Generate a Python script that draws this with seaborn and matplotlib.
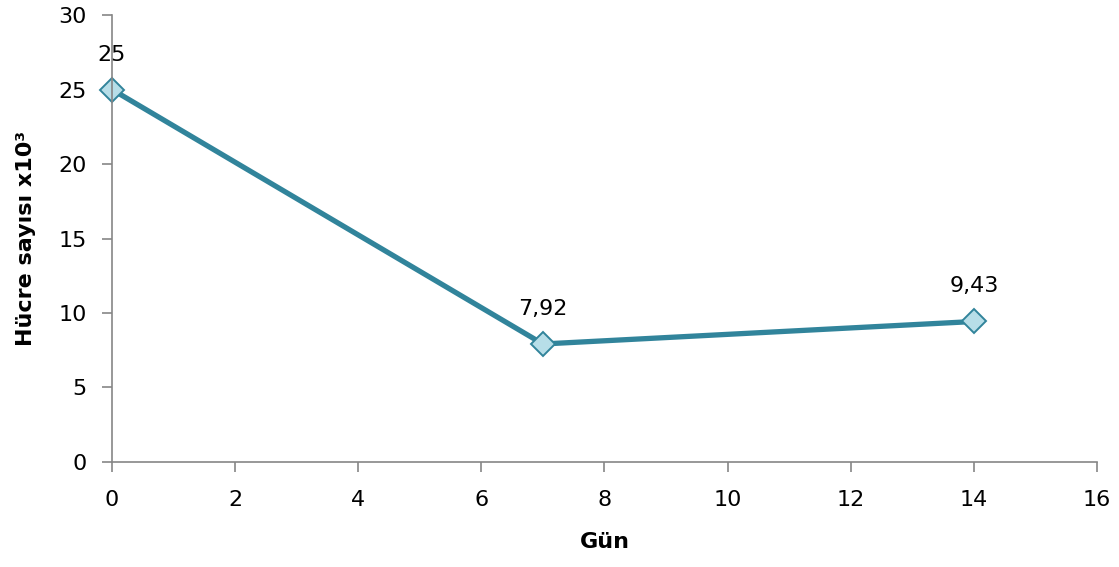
import matplotlib
matplotlib.use("Agg")
import matplotlib.pyplot as plt
import seaborn as sns
import pandas as pd

days = [0, 7, 14]
cell_counts = [25, 7.92, 9.43]
value_labels = ["25", "7,92", "9,43"]
x_ticks = [0, 2, 4, 6, 8, 10, 12, 14, 16]
y_ticks = [0, 5, 10, 15, 20, 25, 30]

sns.set_theme(style="white")
plt.rcParams["font.family"] = ["DejaVu Sans"]

df = pd.DataFrame({"Gün": days, "Hücre": cell_counts})

fig = plt.figure(figsize=(11.19, 5.67), dpi=100)
ax = fig.add_axes([0.1001, 0.1852, 0.8802, 0.7883])

line_color = "#31849B"
sns.lineplot(data=df, x="Gün", y="Hücre", ax=ax, color=line_color, linewidth=3.8,
             marker="D", markersize=12, markerfacecolor="#B7DEE8",
             markeredgecolor=line_color, markeredgewidth=1.4, clip_on=False)

for x, y, lab in zip(days, cell_counts, value_labels):
    ax.annotate(lab, (x, y), xytext=(0, 18), textcoords="offset points",
                ha="center", va="bottom", fontsize=16, color="black")

ax.set_xlim(0, 16)
ax.set_ylim(0, 30)
ax.set_xticks(x_ticks)
ax.set_yticks(y_ticks)
ax.set_xticklabels([str(t) for t in x_ticks])
ax.set_yticklabels([str(t) for t in y_ticks])
ax.tick_params(axis="both", labelsize=16, labelcolor="black", color="#868686",
               length=7, width=1.2, direction="out")
ax.tick_params(axis="x", pad=13)
ax.tick_params(axis="y", pad=11)
ax.xaxis.set_ticks_position("bottom")
ax.yaxis.set_ticks_position("left")

for side in ["top", "right"]:
    ax.spines[side].set_visible(False)
for side in ["left", "bottom"]:
    ax.spines[side].set_color("#868686")
    ax.spines[side].set_linewidth(1.2)

ax.set_xlabel("Gün", fontsize=16, fontweight="bold", color="black", labelpad=16)
ax.set_ylabel("Hücre sayısı x10³", fontsize=16, fontweight="bold", color="black",
              labelpad=16)
ax.grid(False)

fig.savefig("out.png", dpi=100)
